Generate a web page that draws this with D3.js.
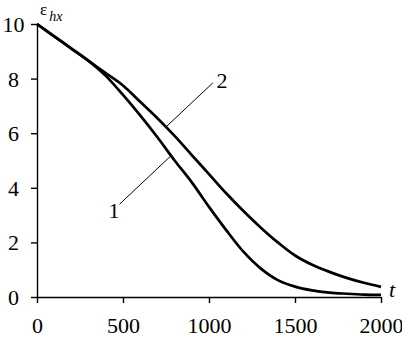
<!DOCTYPE html>
<html>
<head>
<meta charset="utf-8">
<script src="https://cdn.jsdelivr.net/npm/d3@7"></script>
<style>
  html, body { margin: 0; padding: 0; background: #fff; }
  svg { display: block; }
</style>
</head>
<body>
<svg id="chart" width="402" height="338" font-family="Liberation Serif"></svg>
<script>
const tValues = [0,100,200,300,400,500,600,700,800,900,1000,1100,1200,1300,1400,1500,1600,1700,1800,1900,2000];
const curve1 = [10.0,9.55,9.1,8.65,8.1,7.4,6.65,5.85,5.0,4.2,3.3,2.45,1.66,1.05,0.62,0.38,0.24,0.16,0.12,0.09,0.08];
const curve2 = [10.0,9.55,9.1,8.65,8.2,7.75,7.15,6.55,5.9,5.2,4.5,3.8,3.15,2.55,2.0,1.52,1.18,0.92,0.7,0.52,0.37];
const xTicks = [0,500,1000,1500,2000];
const yTicks = [0,2,4,6,8,10];
const curveNames = ["1","2"];

const FONT = "Liberation Serif";
const svg = d3.select("#chart");
const x = d3.scaleLinear().domain([0,2000]).range([37,381]);
const y = d3.scaleLinear().domain([0,10]).range([297,24]);

// y axis
const gy = svg.append("g").attr("transform", `translate(${x(0)},0)`)
  .call(d3.axisLeft(y).tickValues(yTicks).tickSize(6).tickSizeOuter(0).tickFormat(d3.format("d")));
gy.attr("font-family", FONT).attr("font-size", 22);
gy.selectAll("text").attr("x", 13.5 - x(0)).attr("text-anchor","middle").attr("dy","0.34em")
  .attr("font-family", FONT).attr("font-size", 22);

// x axis
const gx = svg.append("g").attr("transform", `translate(0,${y(0)})`)
  .call(d3.axisBottom(x).tickValues(xTicks).tickSize(6).tickSizeOuter(0).tickFormat(d3.format("d")));
gx.attr("font-family", FONT).attr("font-size", 22);
gx.selectAll("text").attr("y", 36).attr("dy", 0)
  .attr("font-family", FONT).attr("font-size", 22);

svg.selectAll(".domain, .tick line").attr("stroke","#000").attr("stroke-width",1.4);

// curves
const line = d3.line().x((d,i)=>x(tValues[i])).y(d=>y(d)).curve(d3.curveCatmullRom.alpha(0.5));
[curve1, curve2].forEach(c => {
  svg.append("path").datum(c).attr("d", line)
    .attr("fill","none").attr("stroke","#000").attr("stroke-width",2.7).attr("stroke-linejoin","round");
});

// curve labels with leader lines
const leaders = [
  {name: curveNames[0], t0: 480, v0: 3.4, t1: 775, v1: 5.15, lx: 114, ly: 218},
  {name: curveNames[1], t0: 1022, v0: 7.84, t1: 745, v1: 6.2, lx: 222, ly: 88}
];
leaders.forEach(l => {
  svg.append("line").attr("x1", x(l.t0)).attr("y1", y(l.v0)).attr("x2", x(l.t1)).attr("y2", y(l.v1))
    .attr("stroke","#000").attr("stroke-width",1);
  svg.append("text").attr("x", l.lx).attr("y", l.ly).attr("text-anchor","middle")
    .attr("font-family", FONT).attr("font-size", 22).text(l.name);
});

// axis titles
const yt = svg.append("text").attr("x", 40).attr("y", 15).attr("font-family", FONT).attr("font-size", 17);
yt.append("tspan").text("ε");
yt.append("tspan").attr("dx", 2).attr("dy", 6).attr("font-size", 14).attr("font-style","italic").text("hx");

svg.append("text").attr("x", 389).attr("y", 297).attr("font-family", FONT).attr("font-size", 22)
  .attr("font-style","italic").text("t");
</script>
</body>
</html>
